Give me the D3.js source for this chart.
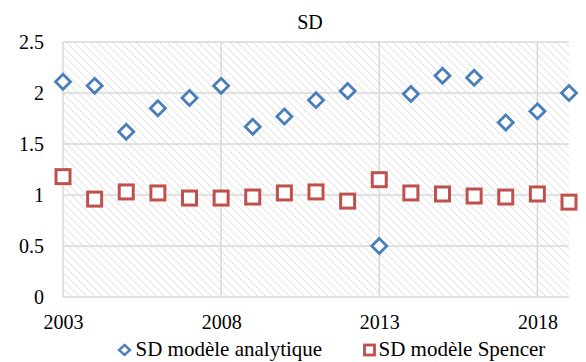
<!DOCTYPE html>
<html>
<head>
<meta charset="utf-8">
<script src="https://cdn.jsdelivr.net/npm/d3@7"></script>
<style>
body { margin: 0; background: #fff; }
</style>
</head>
<body>
<div id="chart"></div>
<script>
// years and the two SD series
var years = [2003, 2004, 2005, 2006, 2007, 2008, 2009, 2010, 2011, 2012, 2013, 2014, 2015, 2016, 2017, 2018, 2019];
var sdAnalytique = [2.11, 2.07, 1.62, 1.85, 1.95, 2.07, 1.67, 1.77, 1.93, 2.02, 0.50, 1.99, 2.17, 2.15, 1.71, 1.82, 2.00];
var sdSpencer = [1.18, 0.96, 1.03, 1.02, 0.97, 0.97, 0.98, 1.02, 1.03, 0.94, 1.15, 1.02, 1.01, 0.99, 0.98, 1.01, 0.93];
var xTicks = [2003, 2008, 2013, 2018];
var yTicks = [0, 0.5, 1, 1.5, 2, 2.5];
var seriesNames = ["SD modèle analytique", "SD modèle Spencer"];

var FONT = "'Liberation Serif'";
var width = 586, height = 362;
var margin = {top: 42, right: 17, bottom: 65, left: 63};

var svg = d3.select("#chart").append("svg")
	.attr("width", width).attr("height", height)
	.attr("font-family", FONT);

var defs = svg.append("defs");
var pat = defs.append("pattern")
	.attr("id", "hatch")
	.attr("patternUnits", "userSpaceOnUse")
	.attr("width", 5.5).attr("height", 5.5)
	.attr("patternTransform", "rotate(-45)");
pat.append("line")
	.attr("x1", 0).attr("y1", 0).attr("x2", 0).attr("y2", 5.5)
	.attr("stroke", "#dedede").attr("stroke-width", 1.6);

var x = d3.scaleLinear().domain([2003, 2019]).range([margin.left, width - margin.right]);
var y = d3.scaleLinear().domain([0, 2.5]).range([height - margin.bottom, margin.top]);

// plot background
svg.append("rect")
	.attr("x", x(2003)).attr("y", y(2.5))
	.attr("width", x(2019) - x(2003)).attr("height", y(0) - y(2.5))
	.attr("fill", "url(#hatch)");

// gridlines
svg.append("g").selectAll("line").data(yTicks).join("line")
	.attr("x1", x(2003)).attr("x2", x(2019))
	.attr("y1", function(d){ return y(d); }).attr("y2", function(d){ return y(d); })
	.attr("stroke", "#d9d9d9").attr("stroke-width", 1.5);
svg.append("g").selectAll("line").data(xTicks).join("line")
	.attr("x1", function(d){ return x(d); }).attr("x2", function(d){ return x(d); })
	.attr("y1", y(0)).attr("y2", y(2.5))
	.attr("stroke", "#d9d9d9").attr("stroke-width", 1.5);

// axes (labels only)
var yAxis = svg.append("g")
	.attr("transform", "translate(" + (margin.left - 19) + ",0)")
	.call(d3.axisLeft(y).tickValues(yTicks).tickSize(0).tickFormat(d3.format("")));
yAxis.attr("font-family", FONT).attr("font-size", 20);
yAxis.select(".domain").remove();
yAxis.selectAll("text").attr("x", 0).attr("dy", "0.32em").attr("fill", "#000");

var xAxis = svg.append("g")
	.attr("transform", "translate(0,329)")
	.call(d3.axisBottom(x).tickValues(xTicks).tickSize(0).tickFormat(d3.format("d")));
xAxis.attr("font-family", FONT).attr("font-size", 20);
xAxis.select(".domain").remove();
xAxis.selectAll("text").attr("y", 0).attr("dy", 0).attr("fill", "#000");

// title
svg.append("text").attr("x", 310).attr("y", 29)
	.attr("text-anchor", "middle").attr("font-size", 20).text("SD");

var blue = "#4a7ebb", red = "#c0504d";

// Spencer squares
svg.append("g").selectAll("rect").data(sdSpencer).join("rect")
	.attr("x", function(d, i){ return x(years[i]) - 7; })
	.attr("y", function(d){ return y(d) - 7; })
	.attr("width", 14).attr("height", 14)
	.attr("fill", "#fff").attr("stroke", red).attr("stroke-width", 3);

// analytique diamonds
var diamond = "M0,-7.5L7.5,0L0,7.5L-7.5,0Z";
svg.append("g").selectAll("path").data(sdAnalytique).join("path")
	.attr("transform", function(d, i){ return "translate(" + x(years[i]) + "," + y(d) + ")"; })
	.attr("d", diamond)
	.attr("fill", "#fff").attr("stroke", blue).attr("stroke-width", 2.8);

// legend
var leg = svg.append("g").attr("font-size", 21);
leg.append("path").attr("transform", "translate(124.5,350)")
	.attr("d", "M0,-5L5.5,0L0,5L-5.5,0Z")
	.attr("fill", "#fff").attr("stroke", blue).attr("stroke-width", 2.4);
leg.append("text").attr("x", 135.5).attr("y", 356).text(seriesNames[0]);
leg.append("rect").attr("x", 364.5).attr("y", 345).attr("width", 10).attr("height", 10)
	.attr("fill", "#fff").attr("stroke", red).attr("stroke-width", 2.8);
leg.append("text").attr("x", 378.5).attr("y", 356).text(seriesNames[1]);
</script>
</body>
</html>
